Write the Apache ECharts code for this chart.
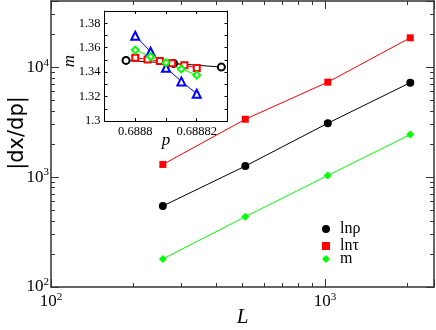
<!DOCTYPE html>
<html>
<head>
<meta charset="utf-8">
<script src="https://cdn.jsdelivr.net/npm/echarts@6/dist/echarts.min.js"></script>
<style>
  html, body { margin: 0; padding: 0; background: #fff; }
  #chart { width: 436px; height: 330px; }
</style>
</head>
<body>
<div id="chart"></div>
<script>
// main plot data
const L = [256, 512, 1024, 2048];
const lnRho = [546, 1259, 3090, 7230];
const lnTau = [1303, 3360, 7310, 18500];
const mSlope = [180, 436, 1035, 2438];

// inset data (m vs p)
const pCirc = [0.688797, 0.6888125, 0.688828];
const mCirc = [1.3496, 1.3471, 1.3441];
const pSq = [0.6888, 0.688804, 0.688808, 0.688812, 0.688816, 0.68882];
const mSq = [1.3518, 1.3504, 1.3490, 1.3472, 1.3456, 1.3434];
const pTri = [0.6888, 0.688805, 0.68881, 0.688815, 0.68882];
const mTri = [1.3698, 1.3567, 1.3436, 1.3324, 1.3223];
const pDia = [0.6888, 0.688805, 0.68881, 0.688815, 0.68882];
const mDia = [1.358, 1.3528, 1.3477, 1.3426, 1.3375];

// ticks
const minorX = [200, 300, 400, 500, 600, 700, 800, 900, 2000];
const minorY = [200, 300, 400, 500, 600, 700, 800, 900,
  2000, 3000, 4000, 5000, 6000, 7000, 8000, 9000, 20000, 30000];
const insetYLabels = [1.3, 1.32, 1.34, 1.36, 1.38];
const insetXLabels = [0.6888, 0.68882];

const serif = 'Liberation Serif';
const zip = (a, b) => a.map((v, i) => [v, b[i]]);

const powRich = {
  b: { fontFamily: serif, fontSize: 17, color: '#000', lineHeight: 20 },
  s: { fontFamily: serif, fontSize: 11, color: '#000', verticalAlign: 'top', lineHeight: 12 }
};
const powFmt = v => {
  const e = Math.log10(v);
  if (Math.abs(e - Math.round(e)) > 1e-6) return '';
  return '{b|10}{s|' + Math.round(e) + '}';
};

const frame = { show: true, onZero: false, lineStyle: { color: '#333', width: 1.5 } };
const noLine = { show: false };

function logAxis(extra) {
  return Object.assign({
    type: 'log', gridIndex: 0, splitLine: { show: false },
    axisLabel: { show: false }
  }, extra);
}

const chart = echarts.init(document.getElementById('chart'));

const option = {
  backgroundColor: '#fff',
  animation: false,
  grid: [
    { left: 51, top: 1, right: 2, bottom: 43, outerBoundsMode: 'none', containLabel: false },
    { left: 104.5, top: 11, width: 123, height: 110, outerBoundsMode: 'none', containLabel: false,
      show: true, backgroundColor: '#fff', borderWidth: 0 }
  ],
  legend: [
    { data: [{ name: 'lnρ', icon: 'circle' }], left: 322, top: 221 },
    { data: [{ name: 'lnτ', icon: 'rect' }], left: 322, top: 238 },
    { data: [{ name: 'm', icon: 'diamond' }], left: 322, top: 251 }
  ].map(l => Object.assign(l, {
    orient: 'vertical', itemWidth: 8, itemHeight: 8, padding: 0,
    textStyle: { fontFamily: serif, fontSize: 16, color: '#000', padding: [0, 0, 0, 5] }
  })),
  xAxis: [
    logAxis({
      min: 100, max: 2500, position: 'bottom', axisLine: frame,
      axisTick: { inside: true, length: 8, lineStyle: { color: '#333' } },
      axisLabel: { show: true, formatter: powFmt, rich: powRich, margin: 5 },
      name: 'L', nameLocation: 'middle', nameGap: 20, nameMoveOverlap: false,
      nameTextStyle: { fontFamily: serif, fontStyle: 'italic', fontSize: 21, color: '#000' }
    }),
    logAxis({
      min: 100, max: 2500, position: 'bottom', axisLine: noLine,
      axisTick: { inside: true, length: 4, customValues: minorX, lineStyle: { color: '#333' } }
    }),
    logAxis({
      min: 100, max: 2500, position: 'top', axisLine: frame,
      axisTick: { inside: true, length: 8, lineStyle: { color: '#333' } }
    }),
    logAxis({
      min: 100, max: 2500, position: 'top', axisLine: noLine,
      axisTick: { inside: true, length: 4, customValues: minorX, lineStyle: { color: '#333' } }
    }),
    {
      type: 'value', gridIndex: 1, min: 0.68879, max: 0.68883, interval: 0.00001,
      position: 'bottom', splitLine: { show: false },
      axisLine: { onZero: false, lineStyle: { color: '#000', width: 1 } },
      axisTick: { inside: true, length: 3, lineStyle: { color: '#000' } },
      axisLabel: { customValues: insetXLabels, fontFamily: serif, fontSize: 12.5, color: '#000', margin: 4 },
      name: 'p', nameLocation: 'middle', nameGap: 11, nameMoveOverlap: false,
      nameTextStyle: { fontFamily: serif, fontStyle: 'italic', fontSize: 17, color: '#000' }
    },
    {
      type: 'value', gridIndex: 1, min: 0.68879, max: 0.68883, interval: 0.00001,
      position: 'top', splitLine: { show: false },
      axisLine: { onZero: false, lineStyle: { color: '#000', width: 1 } },
      axisTick: { inside: true, length: 3, lineStyle: { color: '#000' } },
      axisLabel: { show: false }
    }
  ],
  yAxis: [
    logAxis({
      min: 100, max: 40000, position: 'left', axisLine: frame,
      axisTick: { inside: true, length: 8, lineStyle: { color: '#333' } },
      axisLabel: { show: true, formatter: powFmt, rich: powRich, margin: 2 },
      name: '|dx/dp|', nameLocation: 'middle', nameGap: 23, nameMoveOverlap: false,
      nameTextStyle: { fontFamily: 'DejaVu Sans', fontSize: 21, color: '#000', padding: [0, 0, 0, 22] }
    }),
    logAxis({
      min: 100, max: 40000, position: 'left', axisLine: noLine,
      axisTick: { inside: true, length: 4, customValues: minorY, lineStyle: { color: '#333' } }
    }),
    logAxis({
      min: 100, max: 40000, position: 'right', axisLine: frame,
      axisTick: { inside: true, length: 8, lineStyle: { color: '#333' } }
    }),
    logAxis({
      min: 100, max: 40000, position: 'right', axisLine: noLine,
      axisTick: { inside: true, length: 4, customValues: minorY, lineStyle: { color: '#333' } }
    }),
    {
      type: 'value', gridIndex: 1, min: 1.3, max: 1.39, interval: 0.01,
      position: 'left', splitLine: { show: false },
      axisLine: { onZero: false, lineStyle: { color: '#000', width: 1 } },
      axisTick: { inside: true, length: 3, lineStyle: { color: '#000' } },
      axisLabel: { customValues: insetYLabels, fontFamily: serif, fontSize: 12.5, color: '#000', margin: 4 },
      name: 'm', nameLocation: 'middle', nameGap: 26, nameMoveOverlap: false,
      nameTextStyle: { fontFamily: serif, fontStyle: 'italic', fontSize: 17, color: '#000', padding: [0, 0, 0, 10] }
    },
    {
      type: 'value', gridIndex: 1, min: 1.3, max: 1.39, interval: 0.01,
      position: 'right', splitLine: { show: false },
      axisLine: { onZero: false, lineStyle: { color: '#000', width: 1 } },
      axisTick: { inside: true, length: 3, lineStyle: { color: '#000' } },
      axisLabel: { show: false }
    }
  ],
  series: [
    {
      name: 'lnρ', type: 'line', data: zip(L, lnRho), symbol: 'circle', symbolSize: 8,
      itemStyle: { color: '#000' }, lineStyle: { color: '#000', width: 1 }
    },
    {
      name: 'lnτ', type: 'line', data: zip(L, lnTau), symbol: 'rect', symbolSize: 7,
      itemStyle: { color: '#ff0000' }, lineStyle: { color: '#ff0000', width: 1 }
    },
    {
      name: 'm', type: 'line', data: zip(L, mSlope), symbol: 'diamond', symbolSize: 8,
      itemStyle: { color: '#00ff00' }, lineStyle: { color: '#00ff00', width: 1 }
    },
    {
      name: 'in-circ', type: 'line', xAxisIndex: 4, yAxisIndex: 4, data: zip(pCirc, mCirc),
      symbol: 'emptyCircle', symbolSize: 7, z: 3,
      itemStyle: { color: '#000', borderWidth: 1 }, lineStyle: { color: '#000', width: 1 }
    },
    {
      name: 'in-sq', type: 'line', xAxisIndex: 4, yAxisIndex: 4, data: zip(pSq, mSq),
      symbol: 'emptyRect', symbolSize: 6,
      itemStyle: { color: '#ff0000', borderWidth: 1 }, lineStyle: { color: '#ff0000', width: 1 }
    },
    {
      name: 'in-tri', type: 'line', xAxisIndex: 4, yAxisIndex: 4, data: zip(pTri, mTri),
      symbol: 'emptyTriangle', symbolSize: 8,
      itemStyle: { color: '#0000ff', borderWidth: 1 }, lineStyle: { color: '#0000ff', width: 1 }
    },
    {
      name: 'in-dia', type: 'line', xAxisIndex: 4, yAxisIndex: 4, data: zip(pDia, mDia),
      symbol: 'emptyDiamond', symbolSize: 7,
      itemStyle: { color: '#00ff00', borderWidth: 1 }, lineStyle: { color: '#00ff00', width: 1 }
    }
  ]
};

chart.setOption(option);
</script>
</body>
</html>
